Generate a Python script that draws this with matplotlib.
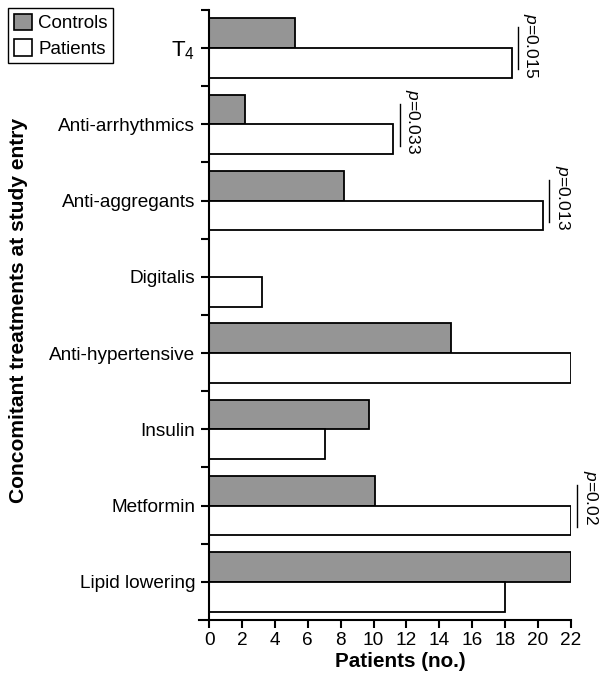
import matplotlib
matplotlib.use('Agg')
import matplotlib.pyplot as plt
import numpy as np
from matplotlib.patches import Patch

plt.rcParams['font.family'] = 'Liberation Sans'
plt.rcParams['mathtext.fontset'] = 'custom'
plt.rcParams['mathtext.rm'] = 'Liberation Sans'
plt.rcParams['mathtext.it'] = 'Liberation Sans:italic'
plt.rcParams['mathtext.default'] = 'regular'

# Data
categories = ['T$_4$', 'Anti-arrhythmics', 'Anti-aggregants', 'Digitalis',
              'Anti-hypertensive', 'Insulin', 'Metformin', 'Lipid lowering']
controls = [5.2, 2.2, 8.2, 0, 14.7, 9.7, 10.1, 22]
patients = [18.4, 11.2, 20.3, 3.2, 22, 7.05, 22, 18]
p_groups = [0, 1, 2, 6]
p_labels = [r'$\mathit{p}$=0.015', r'$\mathit{p}$=0.033',
            r'$\mathit{p}$=0.013', r'$\mathit{p}$=0.02']

GRAY = '#959595'

fig = plt.figure(figsize=(6.04, 6.85), dpi=100)
ax = fig.add_axes([0.330, 0.095, 0.945 - 0.330, 0.8905])

y = np.arange(len(categories))
h = 0.39
ax.barh(y - h / 2, controls, height=h, color=GRAY, edgecolor='black', linewidth=1.3)
ax.barh(y + h / 2, patients, height=h, color='white', edgecolor='black', linewidth=1.3)

# significance marks
for g, lab in zip(p_groups, p_labels):
    xl = patients[g] + 0.4
    ax.plot([xl, xl], [g - 0.27, g + 0.28], color='black', lw=1.0, clip_on=False)
    ax.text(xl + 0.2, g - 0.46, lab, rotation=270, ha='left', va='top',
            fontsize=12.5, clip_on=False)

ax.set_xlim(-0.6, 22)
ax.set_ylim(len(categories) - 0.5, -0.5)
ax.set_xticks(np.arange(0, 23, 2))
ax.set_yticks(y)
ax.set_yticklabels(categories)
ax.set_yticks(np.arange(-0.5, len(categories) - 1, 1), minor=True)

ax.spines['top'].set_visible(False)
ax.spines['right'].set_visible(False)
ax.spines['left'].set_position(('data', 0))
for s in ('left', 'bottom'):
    ax.spines[s].set_linewidth(1.5)

ax.tick_params(axis='both', which='both', direction='out', width=1.5, length=6,
               labelsize=13.7)
ax.tick_params(axis='y', which='major', pad=4)
ax.tick_params(axis='x', pad=3)
ax.get_yticklabels()[0].set_fontsize(16)

ax.set_xlabel('Patients (no.)', fontsize=14.9, fontweight='bold')
ax.xaxis.set_label_coords(0.542, -0.052)
fig.text(0.03, 0.547, 'Concomitant treatments at study entry',
         rotation=90, ha='center', va='center', fontsize=15.1, fontweight='bold')

handles = [Patch(facecolor=GRAY, edgecolor='black', linewidth=1.2, label='Controls'),
           Patch(facecolor='white', edgecolor='black', linewidth=1.2, label='Patients')]
leg = fig.legend(handles=handles, loc='upper left',
                 bbox_to_anchor=(8 / 604, 1 - 8 / 685), fontsize=13.5,
                 handlelength=1.0, handleheight=1.0, handletextpad=0.3,
                 borderpad=0.3, labelspacing=0.35, borderaxespad=0,
                 fancybox=False, edgecolor='black', framealpha=1)
leg.get_frame().set_linewidth(1.0)

fig.savefig('out.png', dpi=100)
